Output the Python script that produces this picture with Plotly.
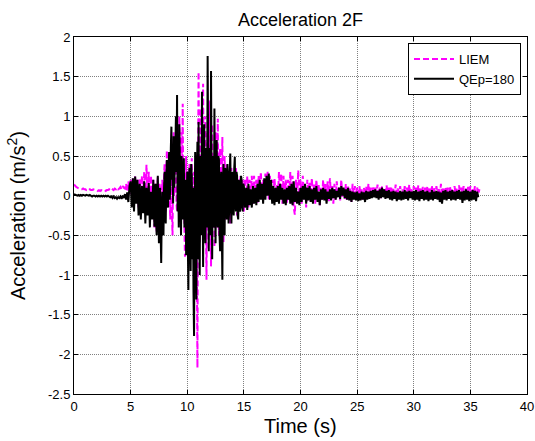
import numpy as np
import plotly.graph_objects as go

# ---- data ----
# Each series is stored in three segments; the strong-motion part is
# sampled more finely than the quiet parts.
SEG_START = [0.0, 7.0, 15.0]     # s
SEG_STEP = [0.1, 0.05, 0.1]      # s

# LIEM (magenta, dashed)
liem_a = [
    0.14, 0.12, 0.11, 0.10, 0.09, 0.09, 0.08, 0.08, 0.09, 0.08,
    0.08, 0.07, 0.08, 0.07, 0.08, 0.07, 0.07, 0.08, 0.07, 0.07,
    0.07, 0.06, 0.07, 0.06, 0.07, 0.06, 0.06, 0.07, 0.06, 0.07,
    0.07, 0.08, 0.07, 0.09, 0.08, 0.07, 0.09, 0.08, 0.10, 0.08,
    0.09, 0.11, 0.08, 0.12, 0.10, 0.09, 0.15, 0.05, 0.18, 0.08,
    0.20, 0.00, 0.22, -0.05, 0.25, -0.10, 0.20, -0.15, 0.22, -0.10,
    0.25, -0.12, 0.30, -0.05, 0.39, -0.10, 0.30, -0.20, 0.25, -0.30,
]
liem_b = [
    0.20, -0.10, -0.40, 0.05, 0.15, -0.20, -0.45, 0.10, 0.23, -0.15,
    -0.30, 0.15, 0.10, -0.25, -0.50, 0.00, 0.20, -0.10, -0.30, 0.25,
    0.40, 0.00, -0.20, 0.30, 0.57, 0.10, -0.10, 0.35, 0.50, -0.05,
    -0.30, 0.20, 0.40, -0.20, -0.50, 0.30, 0.80, 0.00, 0.20, 0.70,
    0.60, -0.10, -0.20, 0.50, 0.90, 0.20, 1.00, 0.40, 0.30, 0.60,
    0.80, 0.30, 1.16, -0.20, 0.20, -0.40, -0.77, 0.10, 0.50, -0.20,
    0.30, -0.20, -0.50, 0.20, 0.40, -0.30, -0.60, 0.30, 0.47, -0.40,
    -0.80, 0.10, 0.30, -0.60, -1.20, 0.10, 0.50, -1.00, -2.17, 0.30,
    1.56, 0.20, -0.60, 0.50, 1.10, -0.20, -0.30, 0.60, 1.41, 0.10,
    -0.50, 0.40, 1.00, -0.30, -1.06, 0.20, 0.80, -0.10, -0.40, 0.60,
    1.20, 0.00, -0.89, 0.30, 0.90, -0.10, -0.30, 0.40, -0.65, 0.20,
    0.80, -0.10, -0.40, 0.50, 0.97, -0.20, -0.50, 0.30, 0.60, -0.10,
    -0.30, 0.30, 0.74, -0.20, -0.60, 0.20, 0.50, -0.10, -0.30, 0.25,
    0.40, -0.10, -0.20, 0.20, 0.30, -0.15, -0.35, 0.15, 0.35, -0.05,
    -0.20, 0.15, 0.30, -0.05, -0.15, 0.20, 0.35, -0.10, -0.25, 0.10,
    0.20, -0.05, -0.10, 0.15, 0.25, -0.10, -0.15, 0.10, 0.20, -0.05,
]
liem_c = [
    -0.20, 0.22, -0.10, 0.25, -0.15, 0.20, -0.05, 0.25, -0.10, 0.25,
    -0.05, 0.20, -0.10, 0.25, 0.00, 0.30, -0.05, 0.20, 0.00, 0.28,
    0.05, 0.30, -0.05, 0.25, 0.00, 0.20, -0.05, 0.22, 0.02, 0.15,
    -0.05, 0.30, 0.00, 0.28, -0.10, 0.25, -0.05, 0.20, -0.10, 0.20,
    -0.05, 0.30, -0.10, 0.25, -0.15, -0.24, 0.20, -0.05, 0.32, 0.00,
    0.20, -0.10, 0.25, -0.05, 0.15, -0.15, 0.20, 0.00, 0.18, -0.08,
    0.22, -0.05, 0.15, -0.10, 0.20, 0.00, 0.15, -0.12, 0.10, -0.05,
    0.20, -0.05, 0.15, 0.00, 0.18, -0.08, 0.22, -0.04, 0.12, -0.10,
    0.15, -0.05, 0.18, 0.00, 0.12, -0.06, 0.20, -0.02, 0.10, -0.04,
    0.15, -0.05, 0.12, 0.00, 0.10, -0.08, 0.15, -0.03, 0.12, 0.00,
    0.10, -0.04, 0.12, 0.02, 0.08, -0.05, 0.10, 0.00, 0.12, -0.02,
    0.15, 0.02, 0.10, -0.02, 0.12, 0.03, 0.10, 0.00, 0.14, 0.02,
    0.10, -0.03, 0.12, 0.02, 0.08, 0.00, 0.13, -0.02, 0.10, 0.03,
    0.12, 0.00, 0.10, -0.03, 0.14, 0.02, 0.09, -0.02, 0.12, 0.00,
    0.08, -0.03, 0.12, 0.01, 0.10, -0.02, 0.14, 0.00, 0.10, -0.03,
    0.12, 0.00, 0.10, -0.02, 0.13, 0.02, 0.09, -0.03, 0.11, 0.00,
    0.10, -0.02, 0.12, 0.01, 0.09, -0.03, 0.13, 0.00, 0.10, -0.02,
    0.12, 0.02, 0.10, -0.02, 0.15, 0.00, 0.09, -0.03, 0.11, 0.01,
    0.10, -0.02, 0.12, 0.00, 0.09, -0.03, 0.12, 0.02, 0.10, -0.02,
    0.13, 0.00, 0.10, -0.02, 0.12, 0.01, 0.09, -0.03, 0.11, 0.00,
    0.12, -0.02, 0.10, 0.01, 0.12, -0.03, 0.10, 0.02, 0.08,
]

# QEp=180 (black, solid)
qep_a = [
    0.02, 0.01, 0.01, 0.00, 0.01, 0.00, 0.01, 0.00, 0.01, 0.00,
    0.00, 0.01, 0.00, 0.00, 0.01, 0.00, -0.01, 0.00, 0.00, -0.01,
    0.00, -0.01, 0.00, -0.01, 0.00, -0.01, 0.00, -0.01, 0.00, -0.01,
    0.00, -0.01, -0.02, -0.01, -0.03, -0.01, -0.03, -0.02, -0.04, -0.02,
    -0.03, -0.01, -0.04, 0.00, -0.03, 0.02, -0.05, 0.04, -0.08, 0.12,
    0.18, -0.15, 0.22, -0.20, 0.24, -0.10, 0.20, -0.25, 0.15, -0.30,
    0.12, -0.22, 0.18, -0.35, 0.10, -0.25, 0.16, -0.40, 0.05, -0.30,
]
qep_b = [
    0.20, -0.15, -0.39, 0.10, 0.15, -0.30, -0.50, 0.05, 0.25, -0.20,
    -0.60, 0.00, 0.10, -0.45, -0.85, -0.20, 0.05, -0.35, -0.50, 0.10,
    0.30, -0.20, -0.35, 0.20, 0.45, -0.10, -0.15, 0.35, 0.55, -0.05,
    0.10, 0.60, 0.87, 0.20, 0.50, -0.10, 0.75, 0.10, 0.30, 0.60,
    1.00, 0.30, 1.27, -0.20, 0.40, -0.40, 0.90, 0.10, 0.20, -0.50,
    0.50, -0.10, -0.30, 0.30, 0.47, -0.40, -0.20, 0.20, -0.75, -0.10,
    0.30, -0.60, -1.19, 0.20, 0.35, -0.50, -0.95, 0.40, 0.25, -0.80,
    0.10, -1.20, -1.77, -0.20, 0.55, -0.40, -1.31, 0.20, 0.68, -0.80,
    0.93, -0.30, -1.00, 0.40, 0.50, -0.50, 1.31, 0.20, -0.90, 0.40,
    0.90, -0.30, -0.60, 0.60, 0.30, -0.40, 1.76, 0.10, -0.70, 0.60,
    0.40, -0.50, 1.57, 0.20, -0.80, 0.30, 0.50, -0.40, 1.10, 0.00,
    -0.60, 0.40, 0.70, -0.30, -0.40, 0.50, 0.45, -0.50, -0.70, 0.20,
    0.30, -0.40, -1.06, 0.10, 0.40, -0.30, -0.50, 0.35, 0.30, -0.20,
    -0.30, 0.40, 0.20, -0.35, -0.20, 0.30, 0.53, -0.10, -0.35, 0.25,
    0.30, -0.15, -0.25, 0.35, 0.49, -0.10, -0.20, 0.30, 0.25, -0.25,
    -0.30, 0.20, 0.15, -0.20, -0.15, 0.25, 0.20, -0.10, -0.20, 0.15,
]
qep_c = [
    0.12, -0.15, 0.10, -0.18, 0.15, -0.12, 0.08, -0.15, 0.12, -0.10,
    0.10, -0.12, 0.15, -0.08, 0.20, -0.05, 0.15, -0.10, 0.22, -0.05,
    0.25, 0.00, 0.28, -0.05, 0.20, -0.10, 0.12, -0.12, 0.10, -0.08,
    0.12, -0.10, 0.15, -0.05, 0.10, -0.10, 0.08, -0.12, 0.10, -0.05,
    0.12, -0.10, 0.15, -0.12, 0.18, -0.08, 0.10, -0.10, 0.05, -0.12,
    0.10, -0.08, 0.12, -0.05, 0.15, -0.10, 0.10, -0.06, 0.12, -0.08,
    0.08, -0.10, 0.10, -0.05, 0.12, -0.08, 0.05, -0.12, 0.08, -0.05,
    0.10, -0.06, 0.08, -0.10, 0.05, -0.04, 0.08, -0.06, 0.10, -0.03,
    0.08, -0.05, 0.06, -0.02, 0.10, -0.04, 0.12, 0.00, 0.10, -0.03,
    0.08, -0.05, 0.10, -0.06, 0.06, -0.08, 0.05, -0.05, 0.04, -0.06,
    0.05, -0.07, 0.03, -0.06, 0.05, -0.05, 0.04, -0.08, 0.06, -0.05,
    0.05, -0.04, 0.06, -0.03, 0.07, -0.02, 0.08, -0.03, 0.06, -0.05,
    0.08, -0.03, 0.10, -0.02, 0.08, -0.04, 0.06, -0.03, 0.07, -0.05,
    0.05, -0.06, 0.06, -0.04, 0.05, -0.07, 0.04, -0.05, 0.06, -0.06,
    0.05, -0.05, 0.07, -0.04, 0.05, -0.06, 0.06, -0.03, 0.05, -0.05,
    0.06, -0.06, 0.07, -0.05, 0.05, -0.07, 0.06, -0.04, 0.07, -0.06,
    0.05, -0.05, 0.06, -0.07, 0.04, -0.05, 0.07, -0.06, 0.05, -0.04,
    0.06, -0.05, 0.05, -0.08, 0.04, -0.10, 0.06, -0.05, 0.07, -0.06,
    0.05, -0.04, 0.06, -0.06, 0.07, -0.05, 0.05, -0.06, 0.06, -0.04,
    0.07, -0.05, 0.05, -0.09, 0.06, -0.06, 0.08, -0.05, 0.06, -0.07,
    0.05, -0.06, 0.07, -0.05, 0.06, -0.07, 0.05, -0.02,
]

x_ticks = [0, 5, 10, 15, 20, 25, 30, 35, 40]
y_ticks = [2, 1.5, 1, 0.5, 0, -0.5, -1, -1.5, -2, -2.5]
y_tick_text = ["2", "1.5", "1", "0.5", "0", "-0.5", "-1", "-1.5", "-2", "-2.5"]


def build(segments):
    ts, vs = [], []
    for start, step, seg in zip(SEG_START, SEG_STEP, segments):
        ts.append(start + np.arange(len(seg)) * step)
        vs.append(np.asarray(seg, dtype=float))
    return np.concatenate(ts), np.concatenate(vs)


t_liem, v_liem = build([liem_a, liem_b, liem_c])
t_qep, v_qep = build([qep_a, qep_b, qep_c])

FONT = "Liberation Sans, Arial, sans-serif"

W, H = 535, 441
ML, MR, MT, MB = 74, 8, 37, 47
PLOT_W, PLOT_H = W - ML - MR, H - MT - MB

fig = go.Figure()
fig.add_trace(go.Scatter(
    x=t_liem, y=v_liem, mode="lines", name="LIEM",
    line=dict(color="#FF00FF", width=2, dash="6px,3px"),
))
fig.add_trace(go.Scatter(
    x=t_qep, y=v_qep, mode="lines", name="QEp=180",
    line=dict(color="#000000", width=2),
))

axis_common = dict(
    showline=True, linecolor="black", linewidth=1, mirror="ticks",
    ticks="inside", ticklen=4, tickcolor="black",
    showgrid=True, gridcolor="#808080", gridwidth=1, griddash="1px,1px",
    zeroline=False,
    tickfont=dict(family=FONT, size=13, color="black"),
)

fig.update_xaxes(
    range=[0, 40], tickvals=x_ticks, ticktext=[str(v) for v in x_ticks],
    **axis_common,
)
fig.update_yaxes(
    range=[-2.5, 2], tickvals=y_ticks, ticktext=y_tick_text,
    title=dict(text="Acceleration (m/s<sup>2</sup>)",
               font=dict(family=FONT, size=20, color="black"), standoff=16),
    **axis_common,
)

# x-axis label as an annotation (centre about 426px down the page)
fig.add_annotation(
    text="Time (s)", xref="paper", yref="paper",
    x=0.5, y=-(426 - (H - MB)) / PLOT_H,
    xanchor="center", yanchor="middle",
    showarrow=False, font=dict(family=FONT, size=20, color="black"),
)

fig.update_layout(
    width=W, height=H,
    margin=dict(l=ML, r=MR, t=MT, b=MB, autoexpand=False),
    paper_bgcolor="white", plot_bgcolor="white",
    title=dict(text="Acceleration 2F", x=(ML + PLOT_W / 2) / W, xanchor="center",
               y=1 - 20 / H, yanchor="middle",
               font=dict(family=FONT, size=18, color="black")),
    showlegend=True,
    legend=dict(
        x=1 - (527 - 521) / PLOT_W, y=1 - (43 - 37) / PLOT_H,
        xanchor="right", yanchor="top",
        bgcolor="white", bordercolor="black", borderwidth=1,
        font=dict(family=FONT, size=13, color="black"),
        tracegroupgap=0, itemwidth=40,
    ),
)

# remove the browser's default 8px page margin so the figure sits at (0, 0);
# hide the interactive mode bar
fig.write_html(
    "out.html",
    config={"displayModeBar": False},
    post_script="document.body.style.margin='0';document.body.style.overflow='hidden';",
)
